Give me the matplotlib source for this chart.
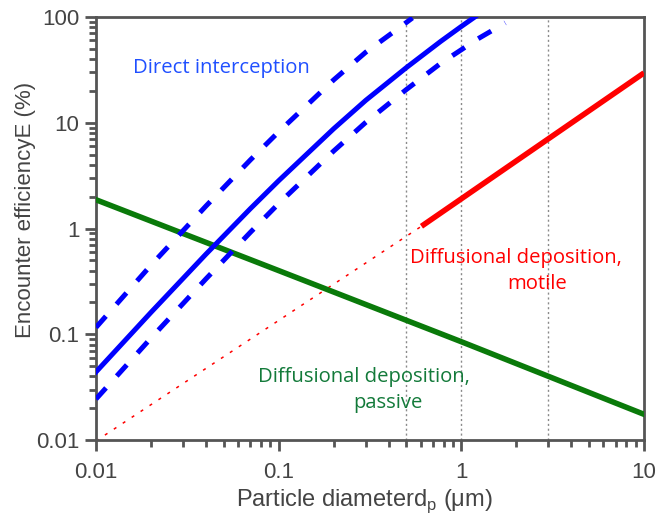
import matplotlib
matplotlib.use("Agg")
import matplotlib.pyplot as plt
from matplotlib.ticker import LogLocator, NullFormatter, FixedLocator, FixedFormatter

plt.rcParams['mathtext.fontset'] = 'custom'
plt.rcParams['mathtext.rm'] = 'Liberation Sans'

# direct interception (solid = central estimate, dashed = range)
di_x = [0.01, 0.02, 0.04, 0.07, 0.1, 0.2, 0.3, 0.5, 0.77, 1.0, 1.19]
di_y = [0.044, 0.161, 0.572, 1.54, 2.83, 8.77, 16.3, 33.2, 58.7, 81.4, 100.5]
di_hi_x = [0.01, 0.02, 0.04, 0.07, 0.1, 0.2, 0.3, 0.475, 0.54]
di_hi_y = [0.116, 0.45, 1.63, 4.45, 8.2, 25.4, 46.5, 83, 98]
di_lo_x = [0.01, 0.02, 0.04, 0.07, 0.1, 0.2, 0.3, 0.5, 0.77, 1.0, 1.19, 1.74]
di_lo_y = [0.0244, 0.092, 0.334, 0.92, 1.72, 5.4, 10.1, 20.6, 36.4, 49, 60, 88]

# diffusional deposition, passive
dp_x = [0.01, 0.1, 1, 10]
dp_y = [1.87, 0.40, 0.085, 0.0175]

# diffusional deposition, motile (dotted part is extrapolated)
dm_x = [0.605, 10]
dm_y = [1.05, 29.6]
dm_dot_x = [0.01, 0.605]
dm_dot_y = [0.0098, 1.05]

vlines = [0.5, 1, 3]

x_ticks = [0.01, 0.1, 1, 10]
x_ticklabels = ['0.01', '0.1', '1', '10']
y_ticks = [0.01, 0.1, 1, 10, 100]
y_ticklabels = ['0.01', '0.1', '1', '10', '100']

axcol = '#555555'
txtcol = '#444444'
blue = '#0000ff'
red = '#ff0000'
green = '#0a7a0a'

fig = plt.figure(figsize=(6.61, 5.29), dpi=100)
ax = fig.add_axes([0.1452, 0.1682, 0.8291, 0.7997])
ax.set_xscale('log')
ax.set_yscale('log')
ax.set_xlim(0.01, 10)
ax.set_ylim(0.01, 100)

for v in vlines:
    ax.axvline(v, color='#8a8a8a', lw=1.0, ls=(0, (1.5, 2)), zorder=1)

ax.plot(dm_dot_x, dm_dot_y, color=red, lw=1.1, ls=(0, (2, 5)), zorder=2)
ax.plot(dm_x, dm_y, color=red, lw=4, solid_capstyle='butt', zorder=3)
ax.plot(dp_x, dp_y, color=green, lw=4, zorder=3)
ax.plot(di_x, di_y, color=blue, lw=3.6, zorder=4)
ax.plot(di_hi_x, di_hi_y, color=blue, lw=3.6, ls=(0, (3, 3.2)), zorder=4)
ax.plot(di_lo_x, di_lo_y, color=blue, lw=3.6, ls=(0, (3, 3.2)), zorder=4)

tfont = 'Open Sans'
fs = 14.6
ax.text(0.0159, 33, 'Direct interception', color='#1f4fff', fontsize=fs,
        family=tfont, ha='left', va='center')
ax.text(0.526, 0.53, 'Diffusional deposition,', color=red, fontsize=fs,
        family=tfont, ha='left', va='center')
ax.text(2.6, 0.30, 'motile', color=red, fontsize=fs,
        family=tfont, ha='center', va='center')
ax.text(0.0774, 0.0395, 'Diffusional deposition,', color='#137a3a', fontsize=fs,
        family=tfont, ha='left', va='center')
ax.text(0.398, 0.0225, 'passive', color='#137a3a', fontsize=fs,
        family=tfont, ha='center', va='center')

for s in ax.spines.values():
    s.set_color(axcol)
    s.set_linewidth(2)

ax.xaxis.set_major_locator(FixedLocator(x_ticks))
ax.xaxis.set_major_formatter(FixedFormatter(x_ticklabels))
ax.yaxis.set_major_locator(FixedLocator(y_ticks))
ax.yaxis.set_major_formatter(FixedFormatter(y_ticklabels))
ax.xaxis.set_minor_locator(LogLocator(base=10, subs=range(2, 10)))
ax.yaxis.set_minor_locator(LogLocator(base=10, subs=range(2, 10)))
ax.xaxis.set_minor_formatter(NullFormatter())
ax.yaxis.set_minor_formatter(NullFormatter())
ax.tick_params(which='major', direction='out', length=8, width=2, color=axcol,
               labelsize=16, labelcolor=txtcol)
ax.tick_params(which='minor', direction='out', length=5, width=2, color=axcol)
ax.tick_params(axis='x', which='major', pad=8)
ax.tick_params(axis='y', which='major', pad=4)
for lab in ax.get_xticklabels() + ax.get_yticklabels():
    lab.set_family('Liberation Sans')

fig.text(0.552, 0.052, 'Particle diameterd$_{\\mathrm{p}}$ (\u03bcm)', fontsize=17,
         color=txtcol, family='Liberation Sans', ha='center', va='center')
fig.text(0.038, 0.603, 'Encounter efficiencyE (%)', fontsize=16, rotation=90,
         color=txtcol, family='Liberation Sans', ha='center', va='center')

fig.savefig('out.png', dpi=100)
